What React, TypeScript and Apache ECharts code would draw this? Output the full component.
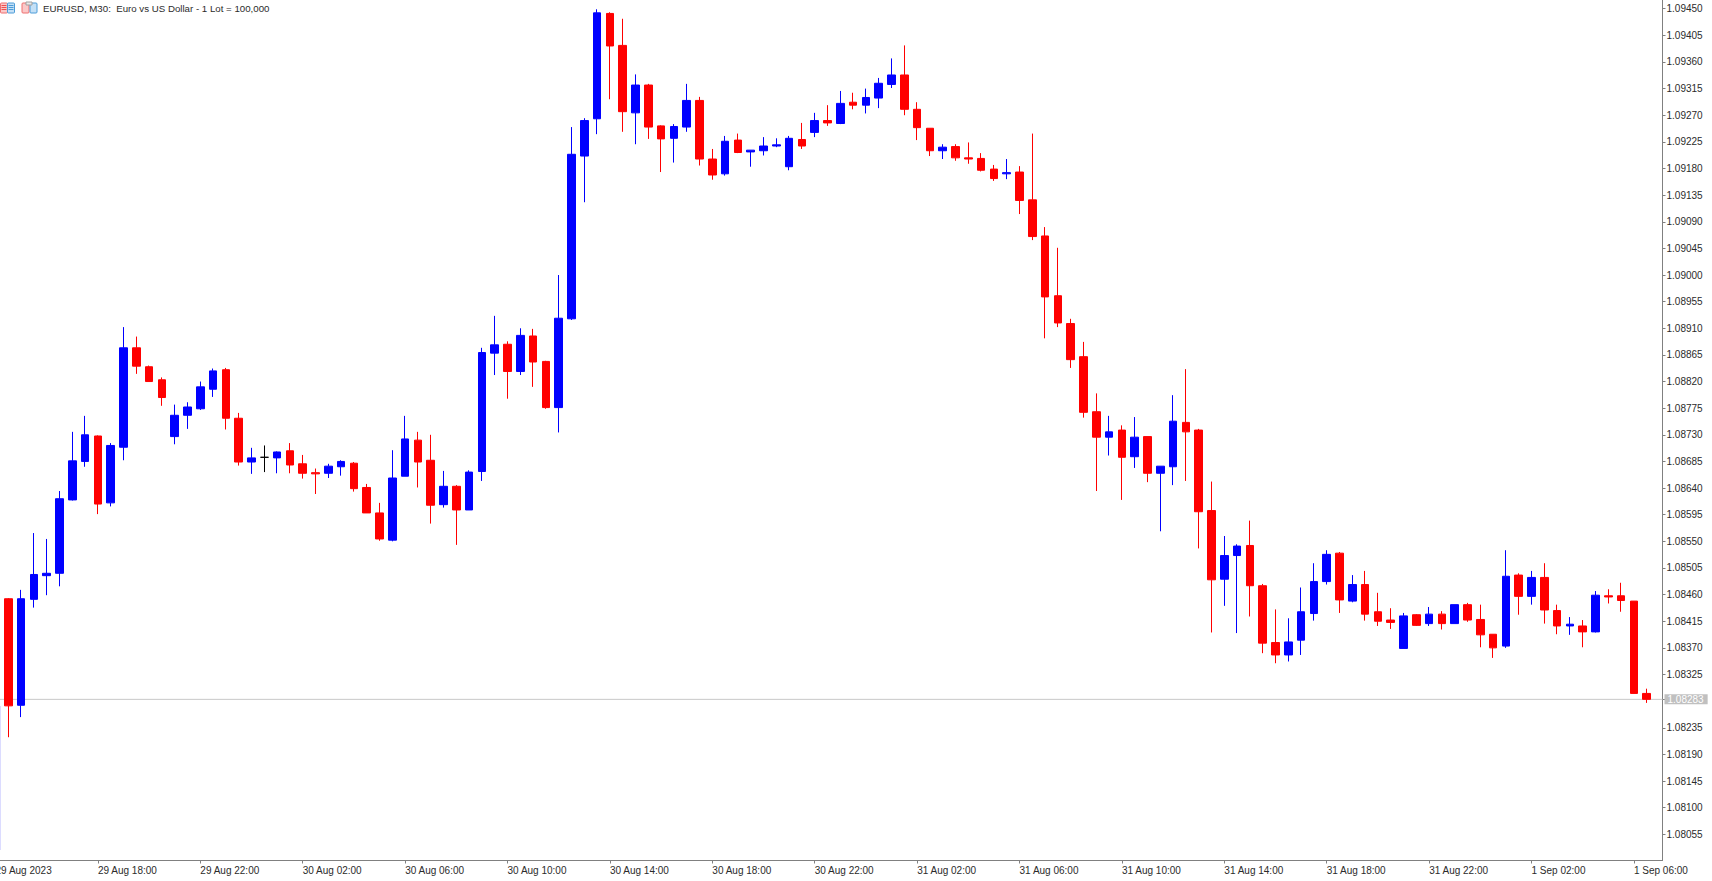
import React, { useEffect, useRef } from "react";
import * as echarts from "echarts";

const titleText = "EURUSD, M30:  Euro vs US Dollar - 1 Lot = 100,000";
const currentPrice = 1.08283;

const opens = [
  1.08453, 1.08273, 1.08452, 1.08492, 1.08496, 1.0862, 1.08685, 1.08728, 1.08615, 1.08709,
  1.08877, 1.08845, 1.08823, 1.08727, 1.08763, 1.08774, 1.08807, 1.0884, 1.08758, 1.08684,
  1.08692, 1.08691, 1.08703, 1.08681, 1.08666, 1.08665, 1.08676, 1.08682, 1.08641, 1.08598,
  1.08552, 1.0866, 1.08721, 1.08687, 1.08612, 1.08643, 1.08603, 1.08668, 1.08868, 1.08883,
  1.08837, 1.08897, 1.08854, 1.08776, 1.08926, 1.09201, 1.09264, 1.09442, 1.09388, 1.09274,
  1.09321, 1.09252, 1.09231, 1.0925, 1.09295, 1.09196, 1.09171, 1.09228, 1.09208, 1.0921,
  1.09218, 1.09183, 1.09229, 1.09241, 1.09261, 1.09256, 1.09292, 1.09287, 1.09299, 1.09322,
  1.09338, 1.0928, 1.09248, 1.0921, 1.09217, 1.09198, 1.09197, 1.09179, 1.09171, 1.09174,
  1.09127, 1.09066, 1.08965, 1.08918, 1.08862, 1.08769, 1.08726, 1.08738, 1.08693, 1.08727,
  1.08665, 1.08676, 1.08751, 1.08738, 1.08602, 1.08486, 1.08526, 1.08543, 1.08475, 1.08379,
  1.08358, 1.08383, 1.08428, 1.08482, 1.0853, 1.08449, 1.08477, 1.08431, 1.08417, 1.08369,
  1.08426, 1.08411, 1.08427, 1.08411, 1.08443, 1.08418, 1.08393, 1.08373, 1.08493, 1.08457,
  1.08489, 1.08433, 1.08407, 1.08407, 1.08397, 1.08458, 1.08458, 1.08449, 1.08293,
];
const closes = [
  1.08272, 1.08453, 1.08494, 1.08496, 1.08622, 1.08686, 1.0873, 1.08613, 1.08712, 1.08877,
  1.08846, 1.0882, 1.08793, 1.08763, 1.08777, 1.08811, 1.08838, 1.08758, 1.08684, 1.08691,
  1.08692, 1.08701, 1.08679, 1.08665, 1.08664, 1.08677, 1.08685, 1.08639, 1.08598, 1.08554,
  1.08657, 1.08723, 1.08684, 1.08611, 1.08643, 1.08603, 1.08667, 1.08869, 1.08882, 1.08837,
  1.08898, 1.08853, 1.08776, 1.08927, 1.09204, 1.09261, 1.09443, 1.09387, 1.09276, 1.09321,
  1.0925, 1.0923, 1.09251, 1.09295, 1.09196, 1.09169, 1.09226, 1.09207, 1.09211, 1.09218,
  1.0922, 1.09231, 1.09218, 1.09261, 1.09257, 1.0929, 1.09287, 1.093, 1.09324, 1.09338,
  1.0928, 1.09249, 1.0921, 1.09216, 1.09198, 1.09196, 1.09177, 1.09163, 1.09173, 1.09126,
  1.09065, 1.08963, 1.08919, 1.08857, 1.08768, 1.08726, 1.08735, 1.08692, 1.08726, 1.08665,
  1.08677, 1.08753, 1.08735, 1.086, 1.08485, 1.08526, 1.08542, 1.08475, 1.08378, 1.08358,
  1.0838, 1.08431, 1.08482, 1.08528, 1.08451, 1.08477, 1.08427, 1.08415, 1.08413, 1.08424,
  1.08408, 1.08427, 1.08411, 1.08443, 1.08417, 1.08392, 1.0837, 1.08491, 1.08457, 1.08489,
  1.08434, 1.08407, 1.0841, 1.08397, 1.08459, 1.08456, 1.0845, 1.08293, 1.08283,
];
const highs = [
  1.08454, 1.08468, 1.08564, 1.08554, 1.08635, 1.08735, 1.08762, 1.08729, 1.08716, 1.08912,
  1.08896, 1.08847, 1.08827, 1.08781, 1.08785, 1.0882, 1.08842, 1.08843, 1.08767, 1.08708,
  1.08712, 1.08702, 1.08716, 1.08696, 1.08673, 1.08681, 1.08687, 1.08684, 1.08647, 1.08615,
  1.08704, 1.08762, 1.08735, 1.0873, 1.08669, 1.08645, 1.0867, 1.08877, 1.08931, 1.08888,
  1.0891, 1.08909, 1.08855, 1.09, 1.0925, 1.09265, 1.09449, 1.09444, 1.09433, 1.09339,
  1.09323, 1.09253, 1.09255, 1.09323, 1.09301, 1.09213, 1.09235, 1.09239, 1.09211, 1.09233,
  1.09231, 1.09235, 1.09257, 1.09274, 1.09287, 1.09311, 1.09308, 1.09315, 1.09333, 1.09366,
  1.09388, 1.09292, 1.09248, 1.09221, 1.09221, 1.09224, 1.09206, 1.09186, 1.09196, 1.09184,
  1.09239, 1.09081, 1.09046, 1.08926, 1.08887, 1.088, 1.08762, 1.08746, 1.0876, 1.08727,
  1.08677, 1.08797, 1.08841, 1.0874, 1.08651, 1.08559, 1.08545, 1.08585, 1.08478, 1.08435,
  1.0842, 1.08472, 1.08513, 1.08535, 1.08532, 1.08493, 1.085, 1.08463, 1.08437, 1.08429,
  1.08427, 1.08439, 1.08432, 1.08443, 1.08446, 1.08443, 1.08393, 1.08535, 1.08496, 1.085,
  1.08513, 1.08443, 1.08422, 1.08417, 1.08466, 1.08469, 1.0848, 1.08449, 1.08301,
];
const lows = [
  1.08219, 1.08253, 1.08438, 1.08459, 1.08474, 1.08619, 1.08676, 1.08596, 1.08609, 1.08687,
  1.08833, 1.0882, 1.08779, 1.08714, 1.0874, 1.08772, 1.08794, 1.08739, 1.08678, 1.08664,
  1.08667, 1.08665, 1.08665, 1.08656, 1.0863, 1.08657, 1.08661, 1.08634, 1.08598, 1.08551,
  1.0855, 1.0866, 1.08641, 1.0858, 1.08607, 1.08544, 1.08603, 1.08652, 1.08831, 1.08791,
  1.08831, 1.08811, 1.08774, 1.08734, 1.08924, 1.09123, 1.09238, 1.09297, 1.09242, 1.09221,
  1.0923, 1.09174, 1.0919, 1.09242, 1.09185, 1.09161, 1.09168, 1.09206, 1.09183, 1.09202,
  1.09216, 1.09177, 1.09213, 1.09233, 1.09252, 1.09255, 1.0928, 1.09273, 1.09282, 1.09316,
  1.0927, 1.09228, 1.09201, 1.09196, 1.09193, 1.09188, 1.09175, 1.09159, 1.09162, 1.09103,
  1.09059, 1.08893, 1.08912, 1.08843, 1.08759, 1.08635, 1.08695, 1.0862, 1.08674, 1.0865,
  1.08567, 1.08645, 1.08652, 1.08538, 1.08396, 1.08441, 1.08395, 1.08423, 1.08361, 1.08344,
  1.08347, 1.08358, 1.08416, 1.08477, 1.08429, 1.08447, 1.08416, 1.08407, 1.08402, 1.08369,
  1.08407, 1.08407, 1.08401, 1.08411, 1.08414, 1.08371, 1.08353, 1.0837, 1.08426, 1.08443,
  1.08411, 1.08393, 1.08392, 1.08371, 1.08396, 1.08445, 1.08431, 1.08293, 1.08277,
];

const priceLabels = [
  1.09450, 1.09405, 1.09360, 1.09315, 1.09270, 1.09225, 1.09180, 1.09135, 1.09090, 1.09045,
  1.09000, 1.08955, 1.08910, 1.08865, 1.08820, 1.08775, 1.08730, 1.08685, 1.08640, 1.08595,
  1.08550, 1.08505, 1.08460, 1.08415, 1.08370, 1.08325, 1.08235, 1.08190, 1.08145, 1.08100,
  1.08055,
];
const timeLabels = [
  "29 Aug 2023", "29 Aug 18:00", "29 Aug 22:00", "30 Aug 02:00", "30 Aug 06:00", "30 Aug 10:00",
  "30 Aug 14:00", "30 Aug 18:00", "30 Aug 22:00", "31 Aug 02:00", "31 Aug 06:00", "31 Aug 10:00",
  "31 Aug 14:00", "31 Aug 18:00", "31 Aug 22:00", "1 Sep 02:00", "1 Sep 06:00",
];
const timeLabelBars = [-1, 7, 15, 23, 31, 39, 47, 55, 63, 71, 79, 87, 95, 103, 111, 119, 127];

const FONT = "'Liberation Sans', Arial, sans-serif";
const TEXT = "#2b2b2b";
const AXIS = "#808080";

function iconBars(x: number, w: number, fill: string, stroke: string) {
  return { type: "rect", x, y: 3, shape: { x: 0, y: 0, width: w, height: 10, r: 1 }, style: { fill, stroke, lineWidth: 1 }, silent: true };
}
function iconLine(x: number, w: number, y: number, stroke: string) {
  return { type: "line", shape: { x1: x, y1: y, x2: x + w, y2: y }, style: { stroke, lineWidth: 1 }, silent: true };
}

export default function App() {
  const ref = useRef<HTMLDivElement>(null);
  useEffect(() => {
    document.body.style.margin = "0";
    document.body.style.overflow = "hidden";
    document.body.style.background = "#fff";
    const chart = echarts.init(ref.current!, null, { renderer: "svg" });
    const gridLeft = -13;
    const gridRight = 1662.5;
    const pxPerBar = 12.8;
    const firstCenter = 8.33;
    const xMin = (gridLeft - firstCenter) / pxPerBar;
    const xMax = (gridRight - firstCenter) / pxPerBar;
    chart.setOption({
      animation: false,
      backgroundColor: "#ffffff",
      title: {
        text: titleText,
        left: 43,
        top: 3,
        padding: 0,
        textStyle: { fontFamily: FONT, fontSize: 9.7, fontWeight: "normal", color: TEXT },
      },
      grid: {
        left: gridLeft,
        top: 0,
        width: gridRight - gridLeft,
        height: 860.5,
        containLabel: false,
        outerBoundsMode: "none",
      },
      xAxis: {
        type: "value",
        min: xMin,
        max: xMax,
        scale: true,
        splitLine: { show: false },
        axisLine: { show: true, onZero: false, lineStyle: { color: AXIS, width: 1 } },
        axisTick: { show: true, length: 3, lineStyle: { color: AXIS }, customValues: timeLabelBars },
        axisLabel: {
          customValues: timeLabelBars,
          align: "left",
          margin: 5,
          fontFamily: FONT,
          fontSize: 10,
          color: TEXT,
          hideOverlap: false,
          showMinLabel: true,
          showMaxLabel: true,
          formatter: (v: number) => timeLabels[timeLabelBars.indexOf(v)] ?? "",
        },
      },
      yAxis: {
        type: "value",
        position: "right",
        min: 1.080107,
        max: 1.094647,
        scale: true,
        splitLine: { show: false },
        axisLine: { show: true, onZero: false, lineStyle: { color: AXIS, width: 1 } },
        axisTick: { show: true, length: 3, lineStyle: { color: AXIS }, customValues: [...priceLabels, currentPrice] },
        axisLabel: {
          customValues: priceLabels,
          margin: 4,
          fontFamily: FONT,
          fontSize: 10,
          color: TEXT,
          showMinLabel: true,
          showMaxLabel: true,
          formatter: (v: number) => v.toFixed(5),
        },
      },
      graphic: [
        iconBars(0.5, 7, "#fbc8c8", "#ee7070"),
        iconBars(7.5, 7, "#c4e0f6", "#4c9cd8"),
        iconLine(1.5, 5, 5.5, "#ee5050"),
        iconLine(1.5, 5, 7.5, "#ee5050"),
        iconLine(1.5, 5, 9.5, "#ee5050"),
        iconLine(8.5, 5, 5.5, "#4c9cd8"),
        iconLine(8.5, 5, 7.5, "#4c9cd8"),
        iconLine(8.5, 5, 9.5, "#4c9cd8"),
        iconBars(22, 7, "#fbc8c8", "#ee7070"),
        iconBars(30, 7, "#c4e0f6", "#4c9cd8"),
        { type: "rect", shape: { x: 26, y: 2, width: 6, height: 3 }, style: { fill: "#e8e8e8", stroke: "#a0a0a0", lineWidth: 1 }, silent: true },
        { type: "line", shape: { x1: 0.5, y1: 706, x2: 0.5, y2: 850 }, style: { stroke: "#dcdcff", lineWidth: 1 }, silent: true },
      ],
      series: [
        {
          type: "line",
          z: 1,
          silent: true,
          symbol: "none",
          lineStyle: { color: "#c8c8c8", width: 1, type: "solid" },
          data: [[xMin, currentPrice], [xMax, currentPrice]],
          endLabel: {
            show: true,
            distance: 2,
            formatter: () => currentPrice.toFixed(5),
            fontFamily: FONT,
            fontSize: 10,
            color: "#ffffff",
            backgroundColor: "#c0c0c0",
            padding: [0, 4, 0, 3],
            lineHeight: 10,
          },
        },
        {
          type: "candlestick",
          z: 2,
          barWidth: 8,
          clip: true,
          itemStyle: {
            color: "#0000ff",
            color0: "#ff0000",
            borderColor: "#0000ff",
            borderColor0: "#ff0000",
            borderColorDoji: "#000000",
            borderWidth: 1,
          },
          encode: { x: 0, y: [1, 2, 3, 4] },
          data: opens.map((o, i) => [i, o, closes[i], lows[i], highs[i]]),
        },
      ],
    });
    return () => chart.dispose();
  }, []);
  return <div ref={ref} style={{ width: 1712, height: 881 }} />;
}
